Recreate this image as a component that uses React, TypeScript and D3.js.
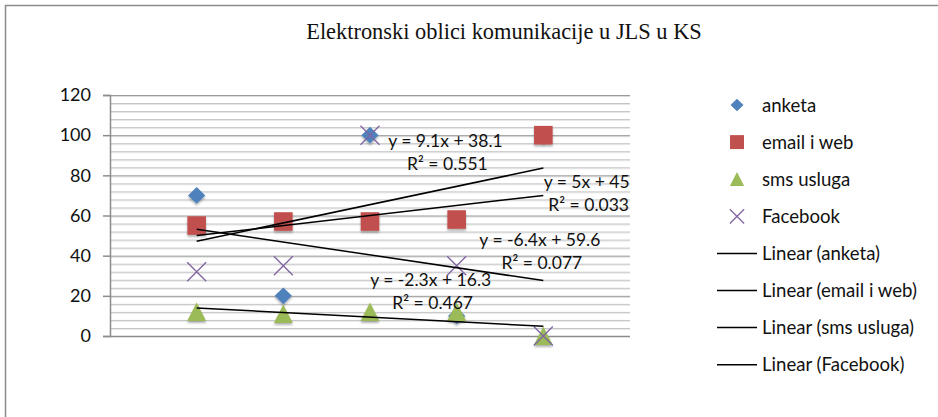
import React, { useEffect, useRef } from "react";
import * as d3 from "d3";

// series values (x = 1..5)
const xValues = [1, 2, 3, 4, 5];
const anketa = [70, 20, 100, 10, 100];
const emailWeb = [55, 57, 57, 58, 100];
const smsUsluga = [12, 11, 12, 12, 0];
const facebook = [32, 35, 100, 35, 0];

const seriesNames = ["anketa", "email i web", "sms usluga", "Facebook"];
const yTicks = [0, 20, 40, 60, 80, 100, 120];
const title = "Elektronski oblici komunikacije u JLS u KS";

// trendline labels as shown on the chart
const eqLabels = ["y = 5x + 45", "y = 9.1x + 38.1", "y = -2.3x + 16.3", "y = -6.4x + 59.6"];
const r2Labels = ["R² = 0.033", "R² = 0.551", "R² = 0.467", "R² = 0.077"];
// label anchors in data units [x, y] for the equation line
const labelAnchors = [
  [5.5, 76.5],
  [3.87, 97],
  [3.7, 28],
  [4.96, 48],
];

const colors = ["#4F81BD", "#C0504D", "#9BBB59", "#8064A2"];
const FONT = "Lato, 'Open Sans', sans-serif";

const App = () => {
  const svgRef = useRef(null);
  const width = 938;
  const height = 417;

  useEffect(() => {
    document.body.style.margin = "0";
    const svg = d3.select(svgRef.current);
    svg.selectAll("*").remove();

    const x = d3.scaleLinear().domain([0, 6]).range([110, 630]);
    const y = d3.scaleLinear().domain([0, 120]).range([336, 95]);

    const defs = svg.append("defs");
    const f = defs.append("filter").attr("id", "shadow").attr("x", "-50%").attr("y", "-50%").attr("width", "200%").attr("height", "200%");
    f.append("feDropShadow").attr("dx", 0).attr("dy", 2).attr("stdDeviation", 1.2).attr("flood-color", "#000").attr("flood-opacity", 0.3);

    // outer border
    svg.append("rect").attr("x", 5.5).attr("y", 5.5).attr("width", width).attr("height", height)
      .attr("fill", "white").attr("stroke", "#8c8c8c").attr("stroke-width", 1.5);

    svg.append("text").attr("x", 504).attr("y", 39).attr("text-anchor", "middle")
      .attr("font-family", "'Liberation Serif', 'Times New Roman', serif").attr("font-size", 22.4)
      .attr("fill", "#111").text(title);

    // grid: minor every 4, major every 20
    const minor = d3.range(4, 120, 4).filter((v) => v % 20 !== 0);
    const grid = svg.append("g");
    grid.selectAll("line.minor-s").data(minor).enter().append("line")
      .attr("x1", x(0)).attr("x2", x(6)).attr("y1", (d) => y(d) + 1.5).attr("y2", (d) => y(d) + 1.5)
      .attr("stroke", "#e8e8e8").attr("stroke-width", 1);
    grid.selectAll("line.minor").data(minor).enter().append("line")
      .attr("x1", x(0)).attr("x2", x(6)).attr("y1", (d) => y(d) + 0.5).attr("y2", (d) => y(d) + 0.5)
      .attr("stroke", "#c4c4c4").attr("stroke-width", 1);
    grid.selectAll("line.major-s").data(yTicks.slice(1)).enter().append("line")
      .attr("x1", x(0)).attr("x2", x(6)).attr("y1", (d) => y(d) + 1.5).attr("y2", (d) => y(d) + 1.5)
      .attr("stroke", "#dcdcdc").attr("stroke-width", 1);
    grid.selectAll("line.major").data(yTicks.slice(1)).enter().append("line")
      .attr("x1", x(0)).attr("x2", x(6)).attr("y1", (d) => y(d) + 0.5).attr("y2", (d) => y(d) + 0.5)
      .attr("stroke", "#9a9a9a").attr("stroke-width", 1);

    // y axis
    const yAxis = svg.append("g").attr("transform", `translate(${x(0)},0)`)
      .call(d3.axisLeft(y).tickValues(yTicks).tickSize(7).tickPadding(12));
    yAxis.select(".domain").attr("stroke", "#8c8c8c").attr("stroke-width", 1.5);
    yAxis.selectAll(".tick line").attr("stroke", "#8c8c8c").attr("stroke-width", 1.5);
    yAxis.selectAll(".tick text").attr("font-family", FONT).attr("font-size", 18).attr("fill", "#111");

    // x axis line
    svg.append("line").attr("x1", x(0)).attr("x2", x(6)).attr("y1", y(0) + 0.5).attr("y2", y(0) + 0.5)
      .attr("stroke", "#8c8c8c").attr("stroke-width", 1.5);

    const allSeries = [anketa, emailWeb, smsUsluga, facebook];

    const drawMarker = (g, i, cx, cy, s) => {
      let p;
      if (i === 0) {
        p = `M0,${-8.3 * s}L${8.6 * s},0L0,${8.3 * s}L${-8.6 * s},0Z`;
      } else if (i === 1) {
        const h = 9.3 * s;
        p = `M${-h},${-h}H${h}V${h}H${-h}Z`;
      } else if (i === 2) {
        p = `M0,${-9.5 * s}L${9.5 * s},${9 * s}H${-9.5 * s}Z`;
      } else {
        const r = 9.5 * s;
        g.append("path").attr("d", `M${-r},${-r}L${r},${r}M${-r},${r}L${r},${-r}`)
          .attr("transform", `translate(${cx},${cy})`)
          .attr("fill", "none").attr("stroke", colors[i]).attr("stroke-width", 1.3);
        return;
      }
      g.append("path").attr("d", p).attr("transform", `translate(${cx},${cy})`)
        .attr("fill", colors[i]).attr("filter", s === 1 ? "url(#shadow)" : null);
    };

    const marks = svg.append("g");
    allSeries.forEach((vals, i) => {
      vals.forEach((v, k) => drawMarker(marks, i, x(xValues[k]), y(v), 1));
    });

    // linear trendlines (least squares)
    const trend = svg.append("g");
    allSeries.forEach((vals) => {
      const mx = d3.mean(xValues);
      const my = d3.mean(vals);
      const sxy = d3.sum(xValues, (xv, k) => (xv - mx) * (vals[k] - my));
      const sxx = d3.sum(xValues, (xv) => (xv - mx) ** 2);
      const b = sxy / sxx;
      const a = my - b * mx;
      const x0 = d3.min(xValues);
      const x1 = d3.max(xValues);
      trend.append("line").attr("x1", x(x0)).attr("y1", y(a + b * x0)).attr("x2", x(x1)).attr("y2", y(a + b * x1))
        .attr("stroke", "#000").attr("stroke-width", 1.5);
    });

    // trendline labels
    const lbl = svg.append("g").attr("font-family", FONT).attr("font-size", 17.5).attr("fill", "#111").attr("text-anchor", "middle");
    labelAnchors.forEach(([ax, ay], i) => {
      lbl.append("text").attr("x", x(ax)).attr("y", y(ay)).attr("dy", "0.35em").text(eqLabels[i]);
      lbl.append("text").attr("x", x(ax) + 2).attr("y", y(ay) + 23).attr("dy", "0.35em").text(r2Labels[i]);
    });

    // legend
    const leg = svg.append("g").attr("font-family", FONT).attr("font-size", 18.6).attr("fill", "#111");
    const legItems = [...seriesNames, ...seriesNames.map((n) => `Linear (${n})`)];
    legItems.forEach((name, j) => {
      const cy = 105 + j * 37.1;
      if (j < 4) {
        drawMarker(leg, j, 737, cy, 0.75);
      } else {
        leg.append("line").attr("x1", 717).attr("x2", 757).attr("y1", cy).attr("y2", cy)
          .attr("stroke", "#000").attr("stroke-width", 1.5);
      }
      leg.append("text").attr("x", 762).attr("y", cy).attr("dy", "0.35em").text(name);
    });
  }, []);

  return <svg ref={svgRef} width={width} height={height} style={{ display: "block" }}></svg>;
};

export default App;
